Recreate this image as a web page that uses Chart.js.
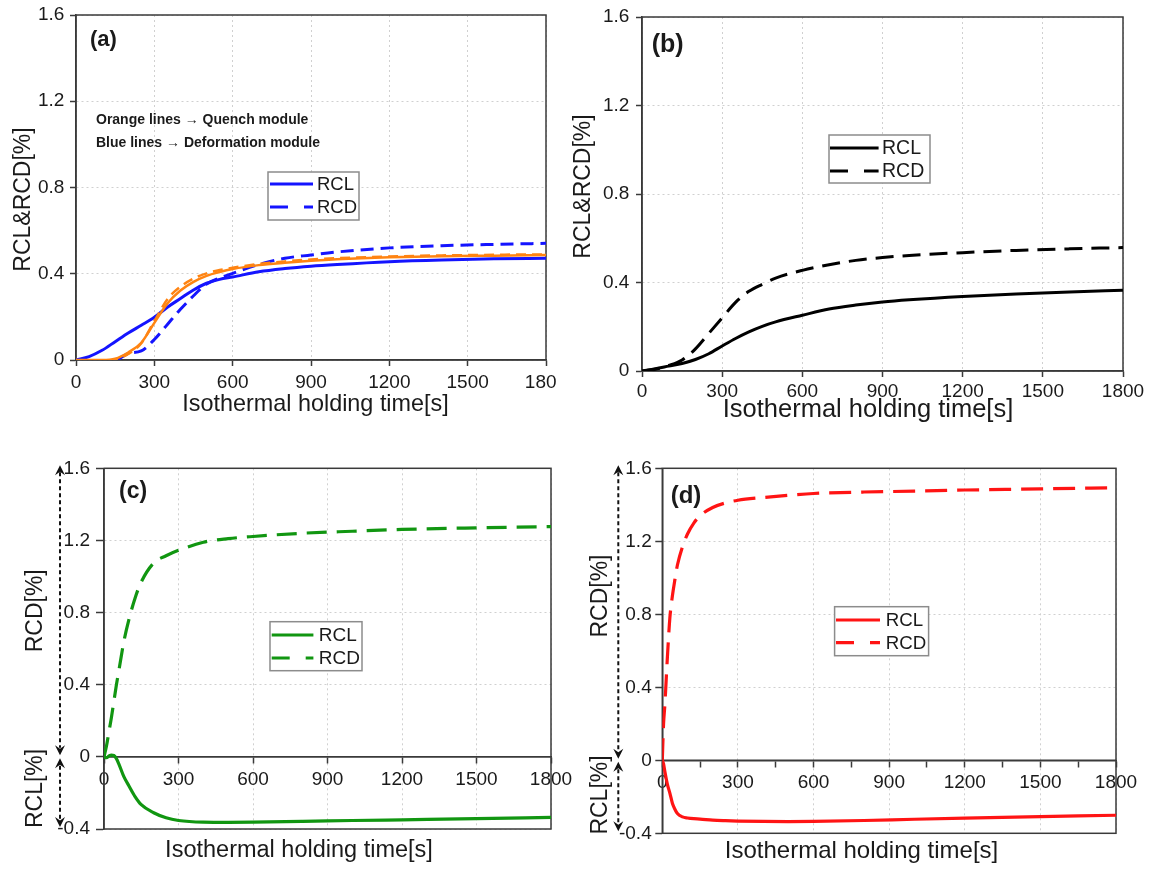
<!DOCTYPE html>
<html>
<head>
<meta charset="utf-8">
<script src="https://cdn.jsdelivr.net/npm/chart.js@4.4.1/dist/chart.umd.min.js"></script>
<style>
  html, body { margin: 0; padding: 0; background: #fff; width: 1151px; height: 869px; overflow: hidden; }
  canvas { position: absolute; }
</style>
</head>
<body>
<canvas id="pa" width="557" height="435" style="left:0px;top:0px"></canvas>
<canvas id="pb" width="581" height="440" style="left:570px;top:0px"></canvas>
<canvas id="pc" width="580" height="429" style="left:0px;top:440px"></canvas>
<canvas id="pd" width="571" height="429" style="left:580px;top:440px"></canvas>
<script>
// ---- tick values ----
const xTickVals = [0, 300, 600, 900, 1200, 1500, 1800];
const xTickValsFine = [0, 150, 300, 450, 600, 750, 900, 1050, 1200, 1350, 1500, 1650, 1800];
const yTickVals = [0, 0.4, 0.8, 1.2, 1.6];
const yTickValsSplit = [-0.4, 0, 0.4, 0.8, 1.2, 1.6];

// ---- (a) quench vs deformation module ----
const tA = [0, 50, 100, 150, 200, 250, 300, 350, 400, 450, 500, 550, 600, 700, 800, 900, 1000, 1200, 1400, 1600, 1800];
const aRclDeform = [0, 0.016, 0.045, 0.085, 0.125, 0.161, 0.198, 0.245, 0.285, 0.325, 0.356, 0.374, 0.385, 0.409, 0.424, 0.435, 0.443, 0.456, 0.464, 0.469, 0.472];
const aRcdDeform = [0, -0.004, -0.006, -0.002, 0.03, 0.042, 0.095, 0.165, 0.235, 0.298, 0.352, 0.38, 0.402, 0.443, 0.472, 0.487, 0.501, 0.52, 0.53, 0.536, 0.541];
const aRclQuench = [0, 0, 0, 0.006, 0.035, 0.08, 0.172, 0.262, 0.322, 0.362, 0.39, 0.408, 0.422, 0.44, 0.451, 0.46, 0.467, 0.476, 0.481, 0.484, 0.487];
const aRcdQuench = [0, -0.004, -0.004, 0.002, 0.028, 0.078, 0.18, 0.282, 0.34, 0.378, 0.402, 0.417, 0.428, 0.445, 0.457, 0.466, 0.472, 0.48, 0.485, 0.488, 0.49];

// ---- (b) ----
const tB = [0, 50, 100, 150, 200, 250, 300, 350, 400, 450, 500, 600, 700, 800, 900, 1000, 1200, 1400, 1600, 1800];
const bRcl = [0, 0.01, 0.022, 0.034, 0.052, 0.078, 0.113, 0.147, 0.177, 0.202, 0.222, 0.252, 0.28, 0.298, 0.312, 0.322, 0.337, 0.348, 0.357, 0.365];
const bRcd = [0, 0.008, 0.025, 0.05, 0.1, 0.17, 0.24, 0.31, 0.36, 0.392, 0.42, 0.455, 0.48, 0.5, 0.513, 0.522, 0.535, 0.545, 0.552, 0.558];

// ---- (c) ----
const tC = [0, 10, 20, 30, 40, 50, 60, 80, 100, 125, 150, 200, 250, 300, 400, 500, 600, 800, 1000, 1200, 1500, 1800];
const cRcd = [0, 0.06, 0.14, 0.22, 0.31, 0.4, 0.48, 0.64, 0.76, 0.88, 0.97, 1.075, 1.115, 1.145, 1.19, 1.21, 1.222, 1.24, 1.251, 1.261, 1.27, 1.277];
const cRcl = [0, -0.005, 0.005, 0.01, 0.008, -0.01, -0.04, -0.11, -0.16, -0.22, -0.265, -0.31, -0.338, -0.353, -0.362, -0.363, -0.362, -0.358, -0.353, -0.349, -0.343, -0.336];

// ---- (d) ----
const tD = [0, 5, 10, 20, 30, 40, 50, 60, 80, 100, 125, 150, 200, 250, 300, 400, 500, 600, 800, 1000, 1200, 1500, 1800];
const dRcd = [0, 0.2, 0.3, 0.56, 0.78, 0.9, 0.99, 1.07, 1.17, 1.24, 1.3, 1.34, 1.385, 1.41, 1.425, 1.44, 1.452, 1.462, 1.47, 1.475, 1.481, 1.487, 1.494];
const dRcl = [0, -0.02, -0.06, -0.13, -0.18, -0.235, -0.268, -0.292, -0.31, -0.316, -0.32, -0.322, -0.328, -0.331, -0.333, -0.335, -0.336, -0.335, -0.33, -0.323, -0.317, -0.309, -0.301];

const FONT = "'Liberation Sans', Arial, sans-serif";
const AXIS = '#3a3a3a';
const GRID = '#d0d0d0';
const TEXT = '#1a1a1a';
const BLUE = '#1414ff', ORANGE = '#ff8412', BLACK = '#000000', GREEN = '#119611', RED = '#ff1414';
const X_TITLE = 'Isothermal holding time[s]';

Chart.defaults.font.family = FONT;
Chart.defaults.color = TEXT;

function arrowHead(ctx, x, tipY, dir) {
  const h = 10 * dir; // dir = +1 points up, -1 points down
  ctx.beginPath();
  ctx.moveTo(x, tipY);
  ctx.lineTo(x - 5, tipY + h);
  ctx.lineTo(x, tipY + h * 0.65);
  ctx.lineTo(x + 5, tipY + h);
  ctx.closePath();
  ctx.fill();
}

// frame, labels, boxed legend and split-axis arrows of one panel
function decor(p) {
  return {
    id: 'decor',
    beforeDatasetsDraw(chart) {
      const { ctx, chartArea: ca, scales } = chart;
      ctx.save();
      ctx.setLineDash([]);
      ctx.strokeStyle = AXIS;
      ctx.lineWidth = 1.5;
      ctx.strokeRect(ca.left, ca.top, ca.right - ca.left, ca.bottom - ca.top);
      if (p.split) {
        const y0 = scales.y.getPixelForValue(0);
        ctx.beginPath();
        ctx.moveTo(ca.left, y0);
        ctx.lineTo(ca.right, y0);
        ctx.stroke();
      }
      ctx.restore();
    },
    afterDraw(chart) {
      const { ctx, scales } = chart;
      ctx.save();
      p.texts.forEach(t => {
        ctx.font = (t.bold ? 'bold ' : '') + t.size + 'px ' + FONT;
        ctx.fillStyle = TEXT;
        ctx.textAlign = t.align || 'center';
        ctx.textBaseline = 'middle';
        const y = t.yVal !== undefined ? scales.y.getPixelForValue(t.yVal) : t.y;
        if (t.rot) {
          ctx.save();
          ctx.translate(t.x, y);
          ctx.rotate(-Math.PI / 2);
          ctx.fillText(t.text, 0, 0);
          ctx.restore();
        } else {
          ctx.fillText(t.text, t.x, y);
        }
      });

      // boxed legend
      const lg = p.legend;
      ctx.fillStyle = '#ffffff';
      ctx.fillRect(lg.x, lg.y, lg.w, lg.h);
      ctx.strokeStyle = '#8c8c8c';
      ctx.lineWidth = 1.5;
      ctx.setLineDash([]);
      ctx.strokeRect(lg.x, lg.y, lg.w, lg.h);
      chart.data.datasets.filter(d => d.inLegend).forEach((d, i) => {
        const yy = lg.y + lg.rows[i];
        ctx.strokeStyle = d.borderColor;
        ctx.lineWidth = d.borderWidth;
        ctx.setLineDash(d.borderDash.length ? [18, 16] : []);
        ctx.beginPath();
        ctx.moveTo(lg.x + lg.s0, yy);
        ctx.lineTo(lg.x + lg.s1, yy);
        ctx.stroke();
        ctx.setLineDash([]);
        ctx.fillStyle = TEXT;
        ctx.font = lg.size + 'px ' + FONT;
        ctx.textAlign = 'left';
        ctx.textBaseline = 'middle';
        ctx.fillText(d.label, lg.x + lg.tx, yy + 1);
      });

      // double arrows marking the RCD / RCL halves of the y axis
      if (p.arrowX !== undefined) {
        const yS = scales.y;
        const x = p.arrowX;
        const yTop = yS.getPixelForValue(1.6) - 3;
        const y0 = yS.getPixelForValue(0);
        const yBot = yS.getPixelForValue(-0.4) - 2;
        ctx.strokeStyle = '#111';
        ctx.fillStyle = '#111';
        ctx.lineWidth = 2;
        ctx.setLineDash([4, 3]);
        ctx.beginPath();
        ctx.moveTo(x, yTop + 7); ctx.lineTo(x, y0 - 9);
        ctx.moveTo(x, y0 + 9); ctx.lineTo(x, yBot - 7);
        ctx.stroke();
        ctx.setLineDash([]);
        arrowHead(ctx, x, yTop, 1);
        arrowHead(ctx, x, y0 - 1.5, -1);
        arrowHead(ctx, x, y0 + 1.5, 1);
        arrowHead(ctx, x, yBot, -1);
      }
      ctx.restore();
    }
  };
}

function buildPanel(canvasId, p) {
  const datasets = p.series.map(s => ({
    label: s.label,
    data: s.t.map((t, i) => ({ x: t, y: s.v[i] })),
    borderColor: s.color,
    borderWidth: s.width,
    borderDash: s.dash || [],
    pointRadius: 0,
    pointHoverRadius: 0,
    cubicInterpolationMode: 'monotone',
    fill: false,
    inLegend: !!s.legend,
    order: s.order || 0
  }));
  const xVals = p.xTicks, yVals = p.yTicks;
  return new Chart(document.getElementById(canvasId), {
    type: 'line',
    data: { datasets },
    options: {
      responsive: false,
      animation: false,
      devicePixelRatio: 1,
      events: [],
      layout: { padding: p.pad },
      plugins: { legend: { display: false }, tooltip: { enabled: false } },
      scales: {
        x: {
          type: 'linear', min: 0, max: 1800,
          position: p.split ? { y: 0 } : 'bottom',
          afterBuildTicks: s => { s.ticks = xVals.map(v => ({ value: v })); },
          afterFit: s => { s.height = p.split ? 0 : p.xH; s.paddingLeft = 0; s.paddingRight = 0; },
          ticks: {
            padding: p.xPad, maxRotation: 0, autoSkip: false, color: TEXT,
            font: { size: 19 },
            callback: v => (v % 300 === 0 ? String(v) : '')
          },
          grid: {
            color: c => (c.tick && c.tick.value % 300 === 0 ? GRID : 'rgba(0,0,0,0)'),
            lineWidth: 1, drawTicks: true, tickLength: 6, tickColor: AXIS, tickWidth: 1.5
          },
          border: { display: true, color: AXIS, width: 1.5, dash: [2, 3] }
        },
        y: {
          type: 'linear', min: yVals[0], max: yVals[yVals.length - 1],
          afterBuildTicks: s => { s.ticks = yVals.map(v => ({ value: v })); },
          afterFit: s => { s.width = p.yW; s.paddingTop = 0; s.paddingBottom = 0; },
          ticks: {
            padding: p.yPad, color: TEXT, font: { size: 19 },
            callback: v => (Math.abs(v) < 1e-9 ? '0' : v.toFixed(1))
          },
          grid: { color: GRID, lineWidth: 1, tickLength: p.yTickLen, tickColor: AXIS, tickWidth: 1.5 },
          border: { display: true, color: AXIS, width: 1.5, dash: [2, 3] }
        }
      }
    },
    plugins: [decor(p)]
  });
}

// (a)
buildPanel('pa', {
  series: [
    { label: 'RCL', t: tA, v: aRclDeform, color: BLUE, width: 3, legend: true, order: 1 },
    { label: 'RCD', t: tA, v: aRcdDeform, color: BLUE, width: 3, dash: [13, 7], legend: true, order: 1 },
    { label: 'RCL', t: tA, v: aRclQuench, color: ORANGE, width: 2.5, order: 0 },
    { label: 'RCD', t: tA, v: aRcdQuench, color: ORANGE, width: 2.5, dash: [10, 6], order: 0 }
  ],
  xTicks: xTickVals, yTicks: yTickVals,
  pad: { left: 0, top: 15, right: 11, bottom: 0 },
  yW: 76, xH: 75, xPad: 5.6, yPad: 5.7, yTickLen: 6,
  texts: [
    { text: 'RCL&RCD[%]', x: 23.6, y: 199.5, size: 23, rot: true },
    { text: X_TITLE, x: 315.5, y: 404.7, size: 23.4 },
    { text: '(a)', x: 90, y: 40, size: 22, bold: true, align: 'left' },
    { text: 'Orange lines \u2192 Quench module', x: 96, y: 120, size: 14, bold: true, align: 'left' },
    { text: 'Blue lines \u2192 Deformation module', x: 96, y: 143, size: 14, bold: true, align: 'left' }
  ],
  legend: { x: 268, y: 172, w: 91, h: 48, rows: [12, 35], s0: 2, s1: 45, tx: 49, size: 18.5 }
});

// (b)
buildPanel('pb', {
  series: [
    { label: 'RCL', t: tB, v: bRcl, color: BLACK, width: 3, legend: true },
    { label: 'RCD', t: tB, v: bRcd, color: BLACK, width: 3, dash: [18, 9], legend: true }
  ],
  xTicks: xTickVals, yTicks: yTickVals,
  pad: { left: 0, top: 17, right: 28, bottom: 0 },
  yW: 72, xH: 69, xPad: 3.3, yPad: 6.7, yTickLen: 6,
  texts: [
    { text: 'RCL&RCD[%]', x: 14, y: 186.5, size: 23, rot: true },
    { text: X_TITLE, x: 298, y: 409.5, size: 25.5 },
    { text: '(b)', x: 81.7, y: 45, size: 25, bold: true, align: 'left' }
  ],
  legend: { x: 259, y: 135, w: 101, h: 48, rows: [13, 36], s0: 1, s1: 49.6, tx: 53, size: 19.5 }
});

// (c)
buildPanel('pc', {
  series: [
    { label: 'RCL', t: tC, v: cRcl, color: GREEN, width: 3.2, legend: true },
    { label: 'RCD', t: tC, v: cRcd, color: GREEN, width: 3.2, dash: [20, 10], legend: true }
  ],
  split: true,
  xTicks: xTickVals, yTicks: yTickValsSplit,
  pad: { left: 0, top: 28.3, right: 29, bottom: 40 },
  yW: 104, xPad: 5.9, yPad: 6, yTickLen: 8,
  arrowX: 60,
  texts: [
    { text: 'RCD[%]', x: 36, yVal: 0.81, size: 23, rot: true },
    { text: 'RCL[%]', x: 36, yVal: -0.175, size: 23, rot: true },
    { text: X_TITLE, x: 299, y: 410.2, size: 23.5 },
    { text: '(c)', x: 119, y: 51.7, size: 23, bold: true, align: 'left' }
  ],
  legend: { x: 270, y: 181.7, w: 92, h: 49, rows: [13.3, 36.3], s0: 1.7, s1: 43.4, tx: 48.8, size: 19 }
});

// (d)
buildPanel('pd', {
  series: [
    { label: 'RCL', t: tD, v: dRcl, color: RED, width: 3.2, legend: true },
    { label: 'RCD', t: tD, v: dRcd, color: RED, width: 3.2, dash: [22, 10], legend: true }
  ],
  split: true,
  xTicks: xTickValsFine, yTicks: yTickValsSplit,
  pad: { left: 0, top: 28.3, right: 35, bottom: 35.7 },
  yW: 82.3, xPad: 5, yPad: 3.6, yTickLen: 7,
  arrowX: 38.3,
  texts: [
    { text: 'RCD[%]', x: 21, yVal: 0.9, size: 23, rot: true },
    { text: 'RCL[%]', x: 21, yVal: -0.19, size: 23, rot: true },
    { text: X_TITLE, x: 281.5, y: 411.7, size: 24 },
    { text: '(d)', x: 90.7, y: 56, size: 24, bold: true, align: 'left' }
  ],
  legend: { x: 254.6, y: 166.7, w: 94, h: 49, rows: [13.3, 36], s0: 1.4, s1: 45.4, tx: 51.2, size: 18.7 }
});
</script>
</body>
</html>
